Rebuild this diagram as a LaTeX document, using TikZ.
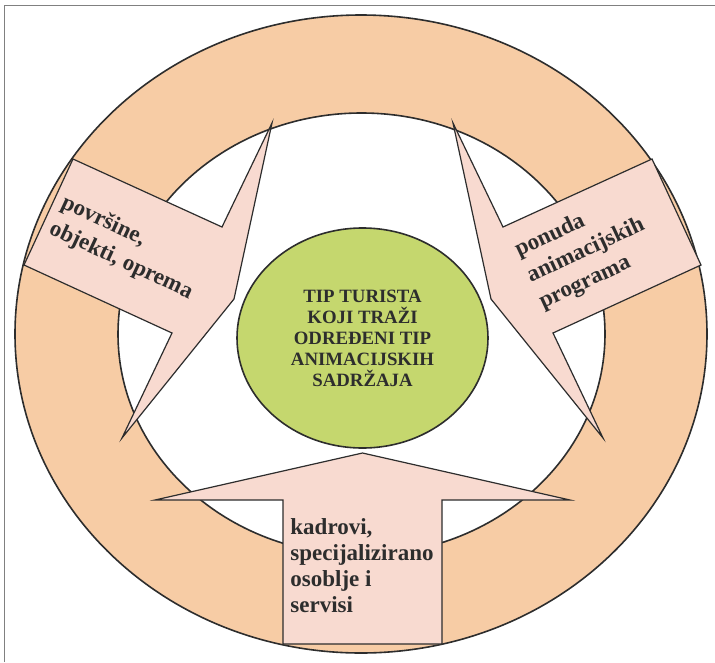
\documentclass[tikz,border=0pt]{standalone}
\usepackage{fontspec}
\setmainfont{Liberation Serif}
\usetikzlibrary{shapes.geometric}
\definecolor{ringpeach}{RGB}{247,204,165}
\definecolor{calloutpink}{RGB}{248,218,208}
\definecolor{centregreen}{RGB}{197,215,110}
\definecolor{ink}{RGB}{45,45,45}
\begin{document}
\begin{tikzpicture}[x=1pt,y=-1pt,
    ring/.style={draw=ink,line width=1.6pt},
    callout/.style={draw=ink,fill=calloutpink,line width=1.2pt,line join=miter},
    sidetext/.style={text=ink,font=\fontsize{23}{26}\selectfont\bfseries,align=left},
    tilttext/.style={sidetext,font=\fontsize{23}{28.5}\selectfont\bfseries},
    centretext/.style={ellipse,draw=ink,line width=1.6pt,fill=centregreen,text=ink,
      minimum width=251pt,minimum height=220pt,align=center,
      font=\fontsize{18.8}{21}\selectfont\bfseries}]
    \tikzstyle{every node}+=[inner sep=0pt]
    \fill [white] (0,0) rectangle (715,662);
    \useasboundingbox (0,0) rectangle (715,662);
    \draw [gray,line width=0.8pt] (4.5,662) -- (4.5,5) -- (715,5);
    \filldraw [ring,fill=ringpeach] (361,334) ellipse [x radius=346pt,y radius=319pt];
    \filldraw [ring,fill=white] (361.5,334) ellipse [x radius=243.5pt,y radius=221pt];
    \filldraw [callout] (272,123) -- (222,227) -- (73,159) -- (24,265) -- (172,333)
        -- (122,438) -- (234,299) -- cycle;
    \filldraw [callout] (453,123) -- (503,227) -- (652,159) -- (701,265) -- (553,333)
        -- (603,438) -- (491,299) -- cycle;
    \filldraw [callout] (362.5,453) -- (570,500) -- (442,500) -- (442,644) -- (283,644)
        -- (283,500) -- (155,500) -- cycle;
    \node [centretext] (turist) at (362.5,338)
        {TIP TURISTA\\KOJI TRAŽI\\ODREĐENI TIP\\ANIMACIJSKIH\\SADRŽAJA};
    \node [tilttext,rotate=-25] (povrsine) at (127,248) {površine,\\objekti, oprema};
    \node [tilttext,rotate=25] (ponuda) at (586,251) {ponuda\\animacijskih\\programa};
    \node [sidetext] (kadrovi) at (362,566) {kadrovi,\\specijalizirano\\osoblje i\\servisi};
\end{tikzpicture}
\end{document}
